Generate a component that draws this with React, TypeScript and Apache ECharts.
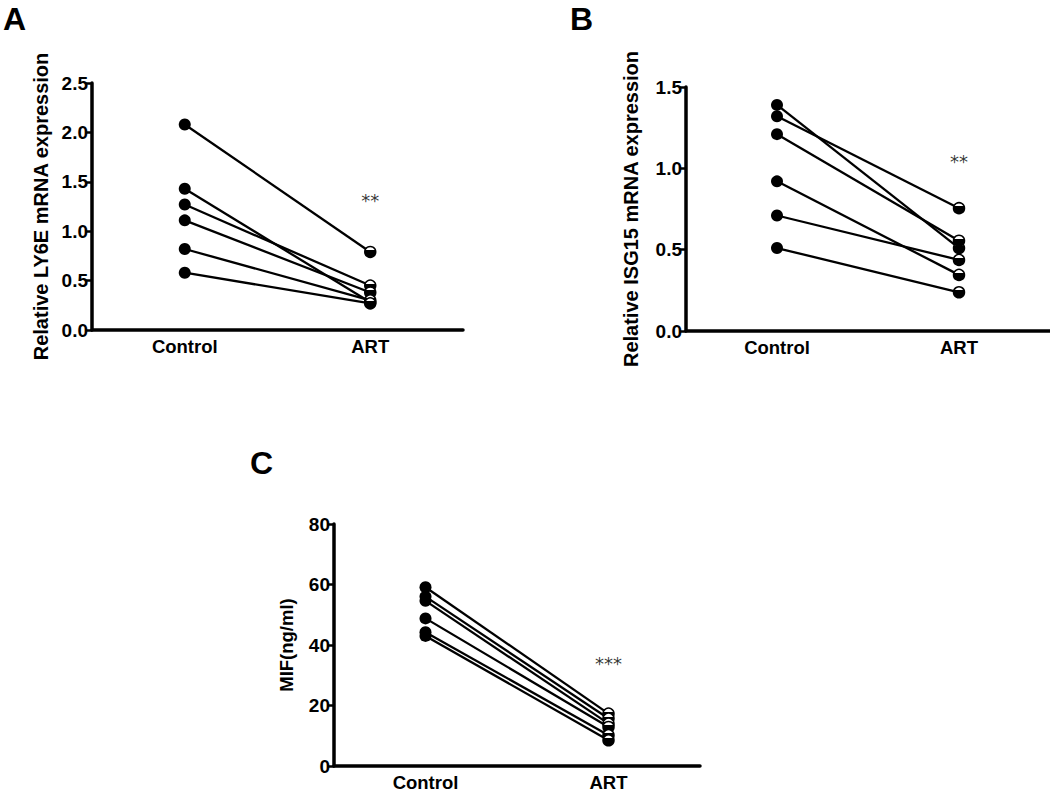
import React, { useEffect, useRef } from "react";
import * as echarts from "echarts";

const categories = ["Control", "ART"];

const ly6eControl = [2.08, 1.43, 1.27, 1.11, 0.82, 0.58];
const ly6eArt = [0.79, 0.28, 0.45, 0.38, 0.3, 0.27];

const isg15Control = [1.39, 1.32, 1.21, 0.92, 0.71, 0.51];
const isg15Art = [0.51, 0.755, 0.555, 0.345, 0.437, 0.238];

const mifControl = [59.1, 56.0, 54.6, 48.8, 44.2, 43.0];
const mifArt = [17.3, 15.7, 14.0, 12.9, 10.2, 8.5];

const panelLetters = ["A", "B", "C"];
const yTitles = ["Relative LY6E mRNA expression", "Relative ISG15 mRNA expression", "MIF(ng/ml)"];
const starTexts = ["**", "**", "***"];
const starValues = [1.31, 1.04, 34];

const FONT = "Liberation Sans, Arial, Helvetica, sans-serif";

const halfFill = {
  type: "linear",
  x: 0,
  y: 0,
  x2: 0,
  y2: 1,
  colorStops: [
    { offset: 0, color: "#ffffff" },
    { offset: 0.32, color: "#ffffff" },
    { offset: 0.32, color: "#000000" },
    { offset: 1, color: "#000000" },
  ],
};

function buildOption() {
  const grids = [
    { left: 92, top: 83, width: 371, height: 247 },
    { left: 686, top: 87, width: 364, height: 244 },
    { left: 334, top: 524, width: 366, height: 242 },
  ];
  const yConf = [
    { min: 0, max: 2.5, interval: 0.5, dec: 1, gap: 41, nameSize: 20 },
    { min: 0, max: 1.5, interval: 0.5, dec: 1, gap: 45, nameSize: 20 },
    { min: 0, max: 80, interval: 20, dec: 0, gap: 38, nameSize: 18.5 },
  ];
  const datasets = [
    [ly6eControl, ly6eArt],
    [isg15Control, isg15Art],
    [mifControl, mifArt],
  ];

  const xAxis: any[] = [];
  const yAxis: any[] = [];
  const series: any[] = [];

  grids.forEach((g, i) => {
    xAxis.push({
      type: "category",
      gridIndex: i,
      data: categories,
      boundaryGap: true,
      axisLine: { lineStyle: { color: "#000", width: 3.5 } },
      axisTick: { alignWithLabel: true, length: 6, lineStyle: { color: "#000", width: 2.5 } },
      axisLabel: { color: "#000", fontFamily: FONT, fontWeight: "bold", fontSize: 18.5, margin: 7 },
      splitLine: { show: false },
    });
    const yc = yConf[i];
    yAxis.push({
      type: "value",
      gridIndex: i,
      min: yc.min,
      max: yc.max,
      interval: yc.interval,
      name: yTitles[i],
      nameLocation: "middle",
      nameRotate: 90,
      nameGap: yc.gap,
      nameTextStyle: { color: "#000", fontFamily: FONT, fontWeight: "bold", fontSize: yc.nameSize },
      axisLine: { show: true, lineStyle: { color: "#000", width: 3.5 } },
      axisTick: { show: true, length: 6, lineStyle: { color: "#000", width: 2.5 } },
      axisLabel: {
        color: "#000",
        fontFamily: FONT,
        fontWeight: "bold",
        fontSize: 19,
        margin: 4,
        formatter: (v: number) => v.toFixed(yc.dec),
      },
      splitLine: { show: false },
    });

    const [ctrl, art] = datasets[i];
    ctrl.forEach((c, k) => {
      series.push({
        type: "line",
        xAxisIndex: i,
        yAxisIndex: i,
        symbol: "circle",
        lineStyle: { color: "#000", width: 2.3 },
        data: [
          { value: c, symbolSize: 12, itemStyle: { color: "#000", borderColor: "#000", borderWidth: 0 } },
          { value: art[k], symbolSize: 11, itemStyle: { color: halfFill, borderColor: "#000", borderWidth: 1.5 } },
        ],
        z: 3,
      });
    });

    series.push({
      type: "scatter",
      xAxisIndex: i,
      yAxisIndex: i,
      symbolSize: 1,
      itemStyle: { color: "transparent" },
      label: {
        show: true,
        position: "inside",
        formatter: starTexts[i],
        fontFamily: "DejaVu Sans, sans-serif",
        fontSize: 18,
        color: "#000",
      },
      data: [["ART", starValues[i]]],
      z: 4,
    });
  });

  const letterPos = [
    { left: 3, top: 3 },
    { left: 570, top: 3 },
    { left: 250, top: 447 },
  ];

  return {
    animation: false,
    backgroundColor: "#ffffff",
    grid: grids,
    xAxis,
    yAxis,
    series,
    graphic: panelLetters.map((t, i) => ({
      type: "text",
      left: letterPos[i].left,
      top: letterPos[i].top,
      style: {
        text: t,
        fontFamily: FONT,
        fontWeight: "bold",
        fontSize: 32,
        fill: "#000",
      },
    })),
  };
}

export default function App() {
  const ref = useRef<HTMLDivElement>(null);
  useEffect(() => {
    if (!ref.current) return;
    const chart = echarts.init(ref.current, null, { renderer: "svg" });
    chart.setOption(buildOption() as any);
    return () => chart.dispose();
  }, []);
  return (
    <div
      ref={ref}
      style={{ position: "absolute", left: 0, top: 0, width: 1050, height: 794, background: "#fff" }}
    />
  );
}
